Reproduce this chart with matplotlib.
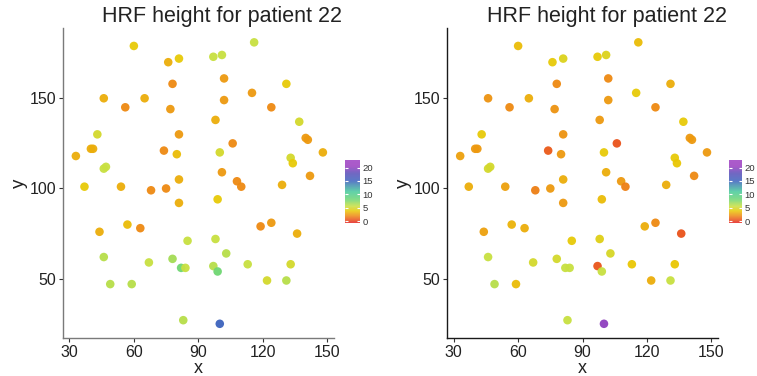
import matplotlib
matplotlib.use("Agg")
import matplotlib.pyplot as plt
from matplotlib.colors import LinearSegmentedColormap, Normalize
from matplotlib.cm import ScalarMappable

plt.rcParams["font.family"] = ["Liberation Sans", "DejaVu Sans"]

# voxel positions (same for both panels)
xs = [60, 116, 76, 81, 97, 101, 78, 102, 131, 46, 65, 56, 77, 102, 115, 124,
      98, 137, 43, 81, 140, 141, 106, 40, 41, 33, 74, 80, 100, 148, 133, 134,
      46, 47, 142, 101, 81, 108, 110, 129, 37, 54, 68, 75, 81, 99, 57, 63,
      44, 119, 124, 136, 85, 98, 46, 67, 78, 82, 84, 97, 99, 103, 113, 133,
      122, 131, 49, 59, 83, 100]
ys = [179, 181, 170, 172, 173, 174, 158, 161, 158, 150, 150, 145, 144, 149, 153, 145,
      138, 137, 130, 130, 128, 127, 125, 122, 122, 118, 121, 119, 120, 120, 117, 114,
      111, 112, 107, 109, 105, 104, 101, 102, 101, 101, 99, 100, 92, 94, 80, 78,
      76, 79, 81, 75, 71, 72, 62, 59, 61, 56, 56, 57, 54, 64, 58, 58,
      49, 49, 47, 47, 27, 25]

# estimated HRF heights, left and right panel
height_a = [4.0, 5.5, 3.0, 4.0, 5.5, 5.5, 2.0, 2.5, 4.0, 3.0, 3.0, 2.0, 2.5, 2.5, 2.5, 2.0,
            3.0, 5.0, 5.0, 2.5, 2.5, 2.5, 2.0, 3.0, 3.0, 3.0, 2.0, 3.5, 5.0, 3.0, 5.0, 4.0,
            5.5, 5.5, 2.5, 2.5, 3.0, 2.0, 2.0, 3.0, 4.0, 3.0, 2.0, 2.0, 3.0, 4.0, 3.5, 2.0,
            3.0, 2.0, 2.5, 3.0, 5.5, 5.5, 6.0, 5.5, 6.5, 8.0, 5.5, 6.0, 8.0, 6.0, 5.5, 5.0,
            5.0, 6.0, 6.0, 6.0, 6.0, 15.0]
height_b = [3.5, 3.5, 4.0, 4.5, 4.0, 4.5, 2.0, 2.0, 3.0, 2.3, 3.0, 2.0, 2.3, 2.5, 4.0, 2.0,
            2.5, 4.0, 4.0, 2.3, 2.5, 2.5, 0.5, 2.5, 2.5, 2.7, 0.7, 2.5, 4.0, 2.5, 4.0, 3.8,
            5.0, 5.0, 2.0, 3.0, 3.0, 2.5, 1.7, 3.0, 3.0, 2.7, 1.7, 2.5, 2.5, 3.5, 3.2, 3.0,
            2.7, 3.0, 2.0, 0.5, 4.0, 4.3, 5.5, 5.0, 5.0, 5.5, 5.5, 0.6, 5.5, 4.8, 3.8, 3.8,
            3.0, 5.5, 6.0, 3.5, 5.5, 20.0]

title = "HRF height for patient 22"
x_ticks = [30, 60, 90, 120, 150]
y_ticks = [50, 100, 150]
cb_ticks = [0, 5, 10, 15, 20]

vmin, vmax = -0.7, 22.9
stops = [(-0.7, "#e52521"), (2.0, "#ee8a12"), (3.8, "#e9c804"), (5.5, "#c8e040"),
         (8.0, "#6fd672"), (11.0, "#45c99a"), (15.0, "#3c63bd"), (18.0, "#5a4cb8"),
         (20.5, "#9a3cc0"), (22.9, "#9c3ec2")]
cmap = LinearSegmentedColormap.from_list(
    "hrf", [((v - vmin) / (vmax - vmin), c) for v, c in stops])
norm = Normalize(vmin, vmax)

fig = plt.figure(figsize=(7.57, 3.76), dpi=100)

panels = [
    (height_a, [0.0832, 0.1019, 0.3575, 0.8229], [0.456, 0.407, 0.019, 0.168], "#7a7a7a"),
    (height_b, [0.5909, 0.1019, 0.3572, 0.8229], [0.963, 0.407, 0.017, 0.168], "#1a1a1a"),
]

for vals, rect, cb_rect, spine_col in panels:
    ax = fig.add_axes(rect)
    ax.scatter(xs, ys, c=vals, cmap=cmap, norm=norm, s=38, alpha=0.95,
               edgecolors="none", zorder=3)
    ax.set_xlim(27, 153)
    ax.set_ylim(17.3, 188.8)
    ax.set_xticks(x_ticks)
    ax.set_yticks(y_ticks)
    ax.tick_params(labelsize=11.5, colors="#333333", length=3, width=0.8, pad=2)
    for lab in ax.get_xticklabels() + ax.get_yticklabels():
        lab.set_color("#222222")
    for side in ["top", "right"]:
        ax.spines[side].set_visible(False)
    for side in ["left", "bottom"]:
        ax.spines[side].set_color(spine_col)
        ax.spines[side].set_linewidth(1.0)
    ax.set_xlabel("x", fontsize=13, color="#222222", labelpad=0.5)
    ax.set_ylabel("y", fontsize=13.5, color="#222222", labelpad=1)
    x_mid = rect[0] + rect[2] / 2 + 24 / 757
    fig.text(x_mid, 1 - 22 / 376, title, ha="center", va="baseline",
             fontsize=15.5, color="#222222")

    cax = fig.add_axes(cb_rect)
    sm = ScalarMappable(norm=norm, cmap=cmap)
    cb = fig.colorbar(sm, cax=cax, ticks=cb_ticks)
    cb.solids.set_alpha(0.85)
    cb.outline.set_visible(False)
    cax.tick_params(direction="in", colors="white", length=2.5, width=0.8,
                    left=True, right=True, labelsize=6.8, pad=2)
    for lab in cax.get_yticklabels():
        lab.set_color("#333333")

fig.savefig("out.png", dpi=100)
